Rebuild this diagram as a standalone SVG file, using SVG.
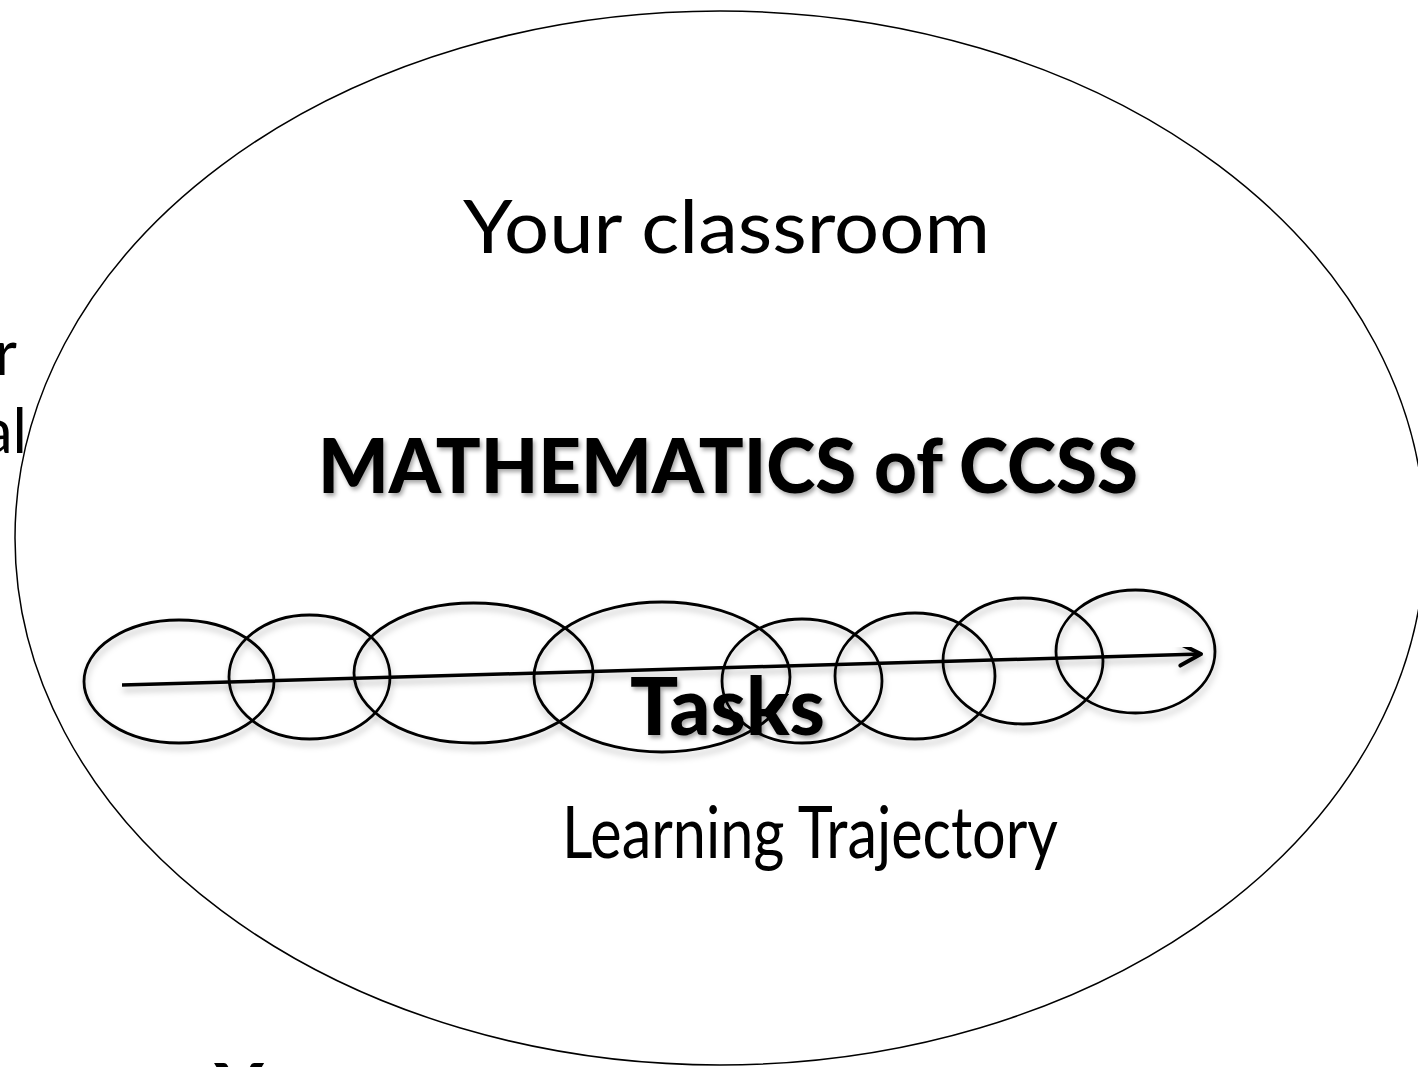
<svg xmlns="http://www.w3.org/2000/svg" width="1418" height="1067" viewBox="0 0 1418 1067">
  <style>
    .reg { font-family: Lato, "Open Sans", "Liberation Sans", sans-serif; font-weight: 400; fill: #000; }
    .bold { font-family: Lato, "Open Sans", "Liberation Sans", sans-serif; font-weight: 900; fill: #000; }
    .ring { fill: none; stroke: #000; stroke-width: 2.8; }
    .big { fill: none; stroke: #000; stroke-width: 1.5; }
  </style>
  <defs>
    <filter id="shadow" x="-20%" y="-20%" width="140%" height="160%">
      <feDropShadow dx="1" dy="5" stdDeviation="3" flood-color="#000" flood-opacity="0.25"/>
    </filter>
    <filter id="tshadow" x="-10%" y="-20%" width="120%" height="150%">
      <feDropShadow dx="2" dy="3" stdDeviation="2" flood-color="#000" flood-opacity="0.35"/>
    </filter>
    <marker id="chev" markerUnits="userSpaceOnUse" markerWidth="30" markerHeight="30" refX="0" refY="0" viewBox="-25 -15 29 30" orient="auto" overflow="visible">
      <path d="M-21,-11 L0,0 L-21,11" fill="none" stroke="#000" stroke-width="4" stroke-linecap="round" stroke-linejoin="round"/>
    </marker>
  </defs>
  <rect width="1418" height="1067" fill="#fff"/>

  <g id="classroom">
    <ellipse class="big" cx="720" cy="538" rx="705" ry="527"/>
    <text class="reg" x="463" y="253" font-size="74" textLength="527" lengthAdjust="spacingAndGlyphs">Your classroom</text>
  </g>

  <g id="mathematics" filter="url(#tshadow)">
    <text class="bold" x="318" y="493" font-size="77" textLength="820" lengthAdjust="spacingAndGlyphs">MATHEMATICS of CCSS</text>
  </g>

  <g id="left-text">
    <text class="reg" x="17" y="375" font-size="61" text-anchor="end">r</text>
    <text class="reg" x="27" y="453" font-size="61" text-anchor="end">al</text>
  </g>

  <g id="bottom-text">
    <text class="bold" x="239" y="1117" font-size="74" text-anchor="middle">Y</text>
  </g>

  <g id="task-rings" filter="url(#shadow)">
    <ellipse id="ring1" class="ring" cx="179" cy="681.5" rx="95" ry="61.5"/>
    <ellipse id="ring2" class="ring" cx="309.5" cy="677" rx="80.5" ry="62"/>
    <ellipse id="ring3" class="ring" cx="473.5" cy="673" rx="119.5" ry="70"/>
    <ellipse id="ring4" class="ring" cx="662" cy="677" rx="128" ry="75"/>
    <ellipse id="ring5" class="ring" cx="802" cy="681" rx="80" ry="62"/>
    <ellipse id="ring6" class="ring" cx="915" cy="676" rx="80" ry="63"/>
    <ellipse id="ring7" class="ring" cx="1023" cy="661" rx="80" ry="63"/>
    <ellipse id="ring8" class="ring" cx="1135.5" cy="651.5" rx="79.5" ry="61.5"/>
  </g>

  <g id="connectors" filter="url(#shadow)">
    <line x1="122" y1="685" x2="1201" y2="654" stroke="#000" stroke-width="3.5" marker-end="url(#chev)"/>
  </g>

  <g id="tasks" filter="url(#tshadow)">
    <text class="bold" x="630" y="735" font-size="80" textLength="195" lengthAdjust="spacingAndGlyphs">Tasks</text>
  </g>

  <g id="trajectory">
    <text class="reg" x="562" y="858" font-size="71" textLength="496" lengthAdjust="spacingAndGlyphs">Learning Trajectory</text>
  </g>
</svg>
